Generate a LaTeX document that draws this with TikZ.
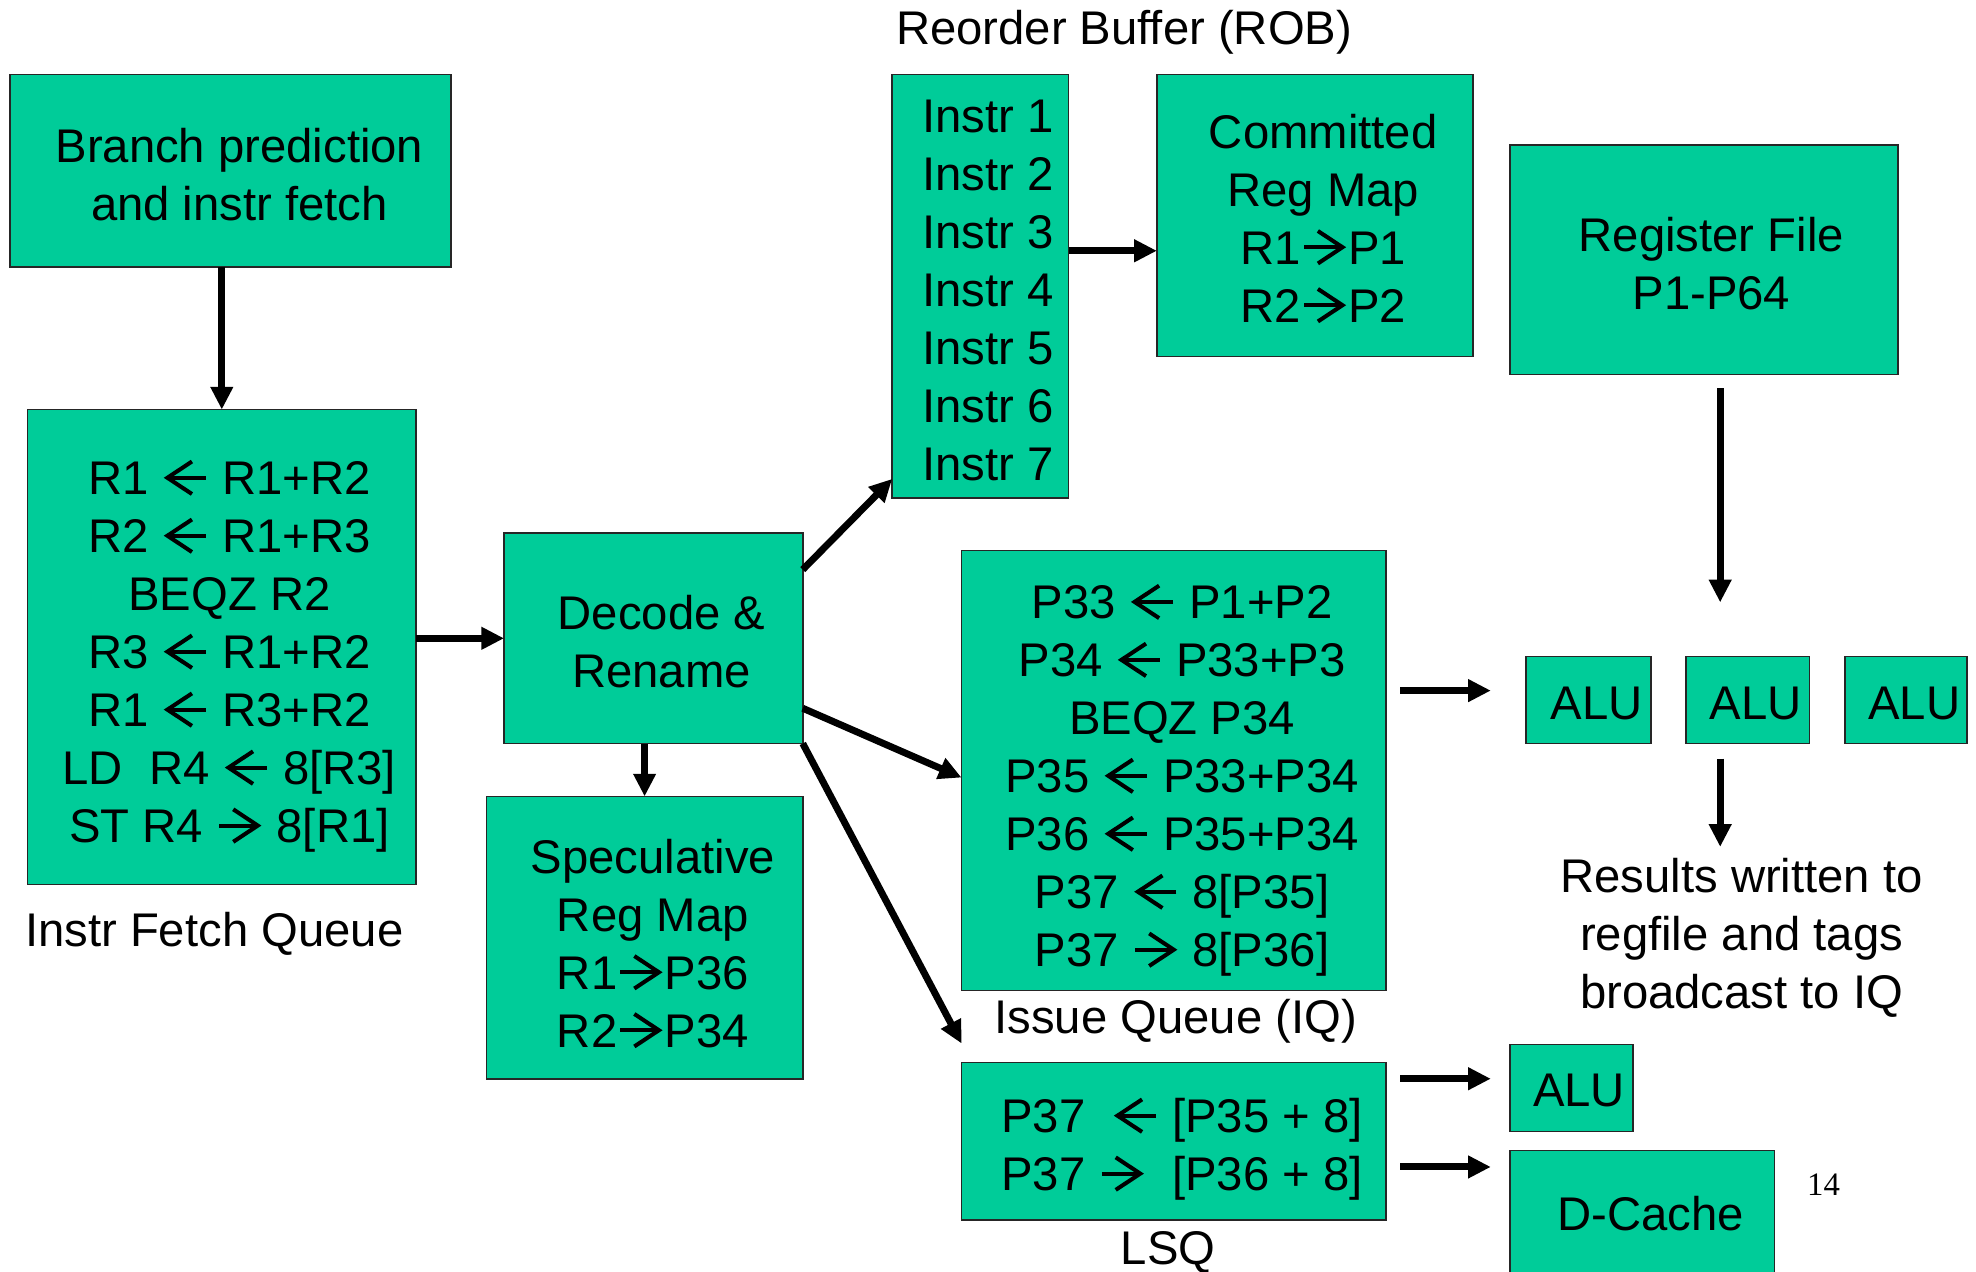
\documentclass[tikz,border=0pt]{standalone}
\usepackage{fontspec}
\setmainfont{Liberation Sans}
\newfontfamily\numfont{Liberation Serif}
\usetikzlibrary{arrows.meta,calc}
\definecolor{boxgreen}{HTML}{00CC99}
\newcommand\myla{\tikz[baseline=0pt,x=1pt,y=1pt,line width=3.2pt]{\useasboundingbox (0,0) rectangle (37.5,26.8); \draw (35,13.4) -- (5,13.4); \draw[line join=miter] (24,26.3) -- (4.5,13.4) -- (24,0.5);}}
\newcommand\myra{\tikz[baseline=0pt,x=1pt,y=1pt,line width=3.2pt]{\useasboundingbox (0,0) rectangle (37.5,26.8); \draw (2.5,13.4) -- (32.5,13.4); \draw[line join=miter] (13.5,26.3) -- (33,13.4) -- (13.5,0.5);}}
\begin{document}
\begin{tikzpicture}[x=1pt,y=-1pt,
  box/.style={draw=black!85,line width=1.2pt,fill=boxgreen,inner sep=0pt,outer sep=0pt},
  txt/.style={align=center,inner sep=0pt,font=\fontsize{37.5}{46}\selectfont},
  arr/.style={line width=5.5pt,-{Triangle[length=18pt,width=17pt]}}]
\clip (0,0) rectangle (1568,1009);
% boxes
\node[box,minimum width=350pt,minimum height=153pt] (bp) at (183,135.5) {};
\node[box,minimum width=308pt,minimum height=377pt] (ifq) at (176,513.5) {};
\node[box,minimum width=237pt,minimum height=167pt] (dec) at (518.5,506.5) {};
\node[box,minimum width=251pt,minimum height=224pt] (spec) at (511.5,744) {};
\node[box,minimum width=140pt,minimum height=336pt] (rob) at (778,227) {};
\node[box,minimum width=251pt,minimum height=224pt] (crm) at (1043.5,171) {};
\node[box,minimum width=308pt,minimum height=182pt] (rf) at (1352,206) {};
\node[box,minimum width=337pt,minimum height=349pt] (iq) at (931.5,611.5) {};
\node[box,minimum width=99pt,minimum height=69pt] (alu1) at (1260.5,555.5) {};
\node[box,minimum width=98pt,minimum height=69pt] (alu2) at (1387,555.5) {};
\node[box,minimum width=97pt,minimum height=69pt] (alu3) at (1512.5,555.5) {};
\node[box,minimum width=337pt,minimum height=125pt] (lsq) at (931.5,905.5) {};
\node[box,minimum width=98pt,minimum height=69pt] (alu4) at (1247,863.5) {};
\node[box,minimum width=210pt,minimum height=120pt] (dc) at (1303,973) {};
% box texts
\node[txt] (bpT) at (190,138.5) {Branch prediction\\and instr fetch};
\node[txt] (ifqT) at (182,521) {R1 \myla{} R1+R2\\R2 \myla{} R1+R3\\BEQZ R2\\R3 \myla{} R1+R2\\R1 \myla{} R3+R2\\LD\ \ R4 \myla{} 8[R3]\\ST R4 \myra{} 8[R1]};
\node[txt] (decT) at (525,509.5) {Decode \&\\Rename};
\node[txt] (specT) at (518,748.5) {Speculative\\Reg Map\\R1\myra{}P36\\R2\myra{}P34};
\node[txt] (robT) at (784,230.5) {Instr 1\\Instr 2\\Instr 3\\Instr 4\\Instr 5\\Instr 6\\Instr 7};
\node[txt] (crmT) at (1050,173) {Committed\\Reg Map\\R1\myra{}P1\\R2\myra{}P2};
\node[txt] (rfT) at (1358,209) {Register File\\P1-P64};
\node[txt] (iqT) at (938,619.5) {P33 \myla{} P1+P2\\P34 \myla{} P33+P3\\BEQZ P34\\P35 \myla{} P33+P34\\P36 \myla{} P35+P34\\P37 \myla{} 8[P35]\\P37 \myra{} 8[P36]};
\node[txt] (alu1T) at (1267,558) {ALU};
\node[txt] (alu2T) at (1393,558) {ALU};
\node[txt] (alu3T) at (1519,558) {ALU};
\node[txt] (lsqT) at (938,912) {P37\ \ \myla{} [P35 + 8]\\P37 \myra{}\ \ [P36 + 8]};
\node[txt] (alu4T) at (1253,865) {ALU};
\node[txt] (dcT) at (1310,963) {D-Cache};
% labels
\node[txt] (robL) at (892,26) {Reorder Buffer (ROB)};
\node[txt] (ifqL) at (170,741) {Instr Fetch Queue};
\node[txt] (iqL) at (933,810) {Issue Queue (IQ)};
\node[txt] (lsqL) at (927,994) {LSQ};
\node[txt] (res) at (1382,744) {Results written to\\regfile and tags\\broadcast to IQ};
\node[font=\numfont\fontsize{26}{30}\selectfont,inner sep=0pt] (pg) at (1447,940) {14};
% arrows
\draw[arr] (bp.south -| ifq.north) -- (ifq.north);
\draw[arr] (ifq.east |- dec.west) -- (dec.west);
\draw[arr] (dec.south -| spec.north) -- (spec.north);
\draw[arr] ($(dec.north east)+(0,29)$) -- ($(rob.south west)+(0,-15)$);
\draw[arr] ($(dec.south east)+(0,-28)$) -- ($(iq.west)+(0,5.5)$);
\draw[arr] (dec.south east) -- ($(lsq.north west)+(0,-15)$);
\draw[arr] ($(rob.east)+(0,-28)$) -- ($(crm.west)+(0,28)$);
\draw[arr] ($(rf.south)+(13,11)$) -- ($(alu2.north)+(-22,-43)$);
\draw[arr] ($(iq.east)+(11,-63.5)$) -- ($(alu1.west)+(-28,-7.5)$);
\draw[arr] ($(alu2.south)+(-22,12)$) -- ($(alu2.south)+(-22,82)$);
\draw[arr] ($(lsq.east)+(11,-49.5)$) -- ($(alu4.west)+(-15,-7.5)$);
\draw[arr] ($(lsq.east)+(11,20.5)$) -- ($(dc.north west)+(-15,13)$);
\end{tikzpicture}
\end{document}
